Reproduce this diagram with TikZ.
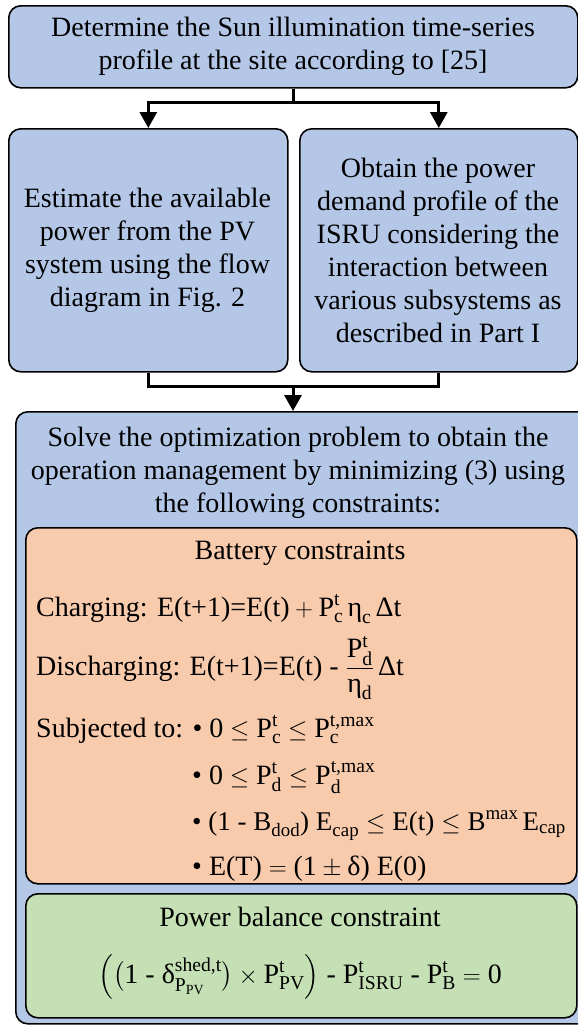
\documentclass[tikz,border=0pt]{standalone}
\usepackage{amsmath}
\usepackage{fontspec}
\setmainfont{Liberation Serif}
\usetikzlibrary{arrows.meta}
\definecolor{bblue}{HTML}{B4C7E7}
\definecolor{borange}{HTML}{F8CBAD}
\definecolor{bgreen}{HTML}{C5E0B4}
\newcommand\rmt[1]{\text{#1}}
\begin{document}
\begin{tikzpicture}[x=1pt,y=-1pt,
  box/.style={draw=black, line width=1.6pt, rounded corners=12pt, fill=bblue, anchor=north west, inner sep=0pt},
  txt/.style={font=\fontsize{28}{33}\selectfont, align=center, inner sep=0pt},
  eq/.style={font=\fontsize{28}{32}\selectfont, inner sep=0pt, anchor=base west},
  arr/.style={line width=3pt, -{Triangle[length=16pt,width=17pt]}},
  ln/.style={line width=3pt}]
\useasboundingbox (0,0) rectangle (578,1026);

% boxes
\node[box, minimum width=569pt, minimum height=82pt] (top) at (8,5) {};
\node[box, minimum width=279pt, minimum height=243pt] (left) at (8,128) {};
\node[box, minimum width=278pt, minimum height=243pt] (right) at (299,128) {};
\node[box, minimum width=575pt, minimum height=612pt] (big) at (15,411) {};
\node[box, fill=borange, minimum width=551pt, minimum height=356pt] (bat) at (25,527) {};
\node[box, fill=bgreen, minimum width=551pt, minimum height=124pt] (pow) at (25,893) {};

% texts
\node[txt] (ttop) at (293,46) {Determine the Sun illumination time-series\\profile at the site according to [25]};
\node[txt] (tleft) at (147.5,250) {Estimate the available\\power from the PV\\system using the flow\\diagram in Fig. 2};
\node[txt] (tright) at (438,250) {Obtain the power\\demand profile of the\\ISRU considering the\\interaction between\\various subsystems as\\described in Part I};
\node[txt] (tbig) at (298,473) {Solve the optimization problem to obtain the\\operation management by minimizing (3) using\\the following constraints:};
\node[txt] (tbat) at (300,553) {Battery constraints};
\node[txt] (tpow) at (300,917) {Power balance constraint};

% battery equations
\node[eq] (charge) at (36,616) {Charging: $\rmt{E(t+1)=E(t)} + \rmt{P}^{\rmt{t}}_{\rmt{c}}\,\rmt{η}_{\rmt{c}}\,\rmt{Δt}$};
\node[eq] (dis) at (36,675) {Discharging: $\rmt{E(t+1)=E(t) - }\dfrac{\rmt{P}^{\rmt{t}}_{\rmt{d}}}{\rmt{η}_{\rmt{d}}}\,\rmt{Δt}$};
\node[eq] (subj) at (36,737) {Subjected to: \textbullet\ $\rmt{0} \leq \rmt{P}^{\rmt{t}}_{\rmt{c}} \leq \rmt{P}^{\rmt{t,max}}_{\rmt{c}}$};
\node[eq] (c2) at (192,784) {\textbullet\ $\rmt{0} \leq \rmt{P}^{\rmt{t}}_{\rmt{d}} \leq \rmt{P}^{\rmt{t,max}}_{\rmt{d}}$};
\node[eq, font=\fontsize{27}{32}\selectfont] (c3) at (192,830) {\textbullet\ $\rmt{(1 - B}_{\rmt{dod}}\rmt{) E}_{\rmt{cap}} \mathrel{\leq} \rmt{E(t)} \mathrel{\leq} \rmt{B}^{\rmt{max}}\,\rmt{E}_{\rmt{cap}}$};
\node[eq] (c4) at (192,875) {\textbullet\ $\rmt{E(T)} = \rmt{(1} \pm \rmt{δ) E(0)}$};

% power balance
\node[eq, anchor=base] (pb) at (300,983) {$\Big(\big(\rmt{1 - }\rmt{δ}^{\rmt{shed,t}}_{\rmt{P}_{\rmt{PV}}}\big) \times \rmt{P}^{\rmt{t}}_{\rmt{PV}}\Big)\rmt{ - }\rmt{P}^{\rmt{t}}_{\rmt{ISRU}}\rmt{ - }\rmt{P}^{\rmt{t}}_{\rmt{B}} = \rmt{0}$};

% connectors
\coordinate (j1) at (293,102);
\coordinate (j2) at (293,386);
\draw[ln] (top.south -| j1) -- (j1);
\draw[arr] (j1) -| (left.north);
\draw[arr] (j1) -| (right.north);
\draw[ln] (left.south) |- (j2);
\draw[ln] (right.south) |- (j2);
\draw[arr] (j2) -- (j2 |- big.north);
\end{tikzpicture}
\end{document}
